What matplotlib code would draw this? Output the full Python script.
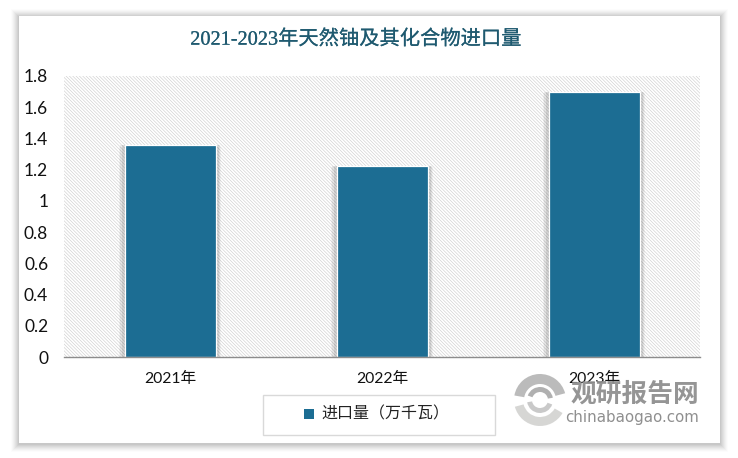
import matplotlib
matplotlib.use("Agg")
import matplotlib.pyplot as plt
from matplotlib.patches import Rectangle, Wedge
import matplotlib.patheffects as pe

categories = ["2021年", "2022年", "2023年"]
import_values = [1.355, 1.225, 1.70]
y_ticks = [0, 0.2, 0.4, 0.6, 0.8, 1, 1.2, 1.4, 1.6, 1.8]
y_labels = ["0", "0.2", "0.4", "0.6", "0.8", "1", "1.2", "1.4", "1.6", "1.8"]
title = "2021-2023年天然铀及其化合物进口量"
legend_label = "进口量（万千瓦）"

W, H = 738, 458
BAR = "#1c6d93"
SANS = ["Lato", "Noto Sans CJK SC"]
plt.rcParams["hatch.linewidth"] = 0.45

fig = plt.figure(figsize=(W / 100, H / 100), dpi=100, facecolor="white")


def px(x, y, w, h):
    return (x / W, 1 - (y + h) / H, w / W, h / H)


bg = fig.add_axes([0, 0, 1, 1], zorder=0)
bg.set_xlim(0, W)
bg.set_ylim(H, 0)
bg.axis("off")
# card shadow, built up in layers, then the card
for grow, a in [(8, 0.012), (7, 0.018), (6, 0.022), (5, 0.028), (4, 0.032), (3, 0.035), (2, 0.04), (1, 0.04)]:
    bg.add_patch(Rectangle((19 - grow, 16 - grow + 1), 701 + 2 * grow, 427 + 2 * grow,
                           fc="black", ec="none", alpha=a))
bg.add_patch(Rectangle((19, 16), 701, 427, fc="white", ec="none"))

ax = fig.add_axes(px(64.2, 76, 636, 281), zorder=1)
ax.set_facecolor("white")
ax.add_patch(Rectangle((0, 0), 1, 1, transform=ax.transAxes, fc="white", ec="#cfcfcf",
                       lw=0, hatch="\\" * 10, zorder=0))
positions = range(len(categories))
bars = ax.bar(positions, import_values, width=0.43, color=BAR, edgecolor="white",
              linewidth=0.9, zorder=3)
shadow_effects = [
    pe.SimplePatchShadow(offset=(o, v), shadow_rgbFace="#000000", alpha=a)
    for o, v, a in [(4, -1, 0.04), (-4, -1, 0.04), (3, 0, 0.06), (-3, 0, 0.06), (2, 0, 0.08), (-2, 0, 0.08)]
]
for b in bars:
    b.set_path_effects(shadow_effects + [pe.Normal()])
ax.set_xlim(-0.5, 2.5)
ax.set_ylim(0, 1.8)
ax.set_xticks(list(positions))
ax.set_xticklabels(categories, family=SANS, fontsize=11.3, color="#111111")
ax.set_yticks(y_ticks)
ax.set_yticklabels(y_labels, family=SANS, fontsize=12.5, color="#111111")
ax.tick_params(axis="both", length=0)
ax.tick_params(axis="x", pad=11)
ax.tick_params(axis="y", pad=11.5)
for s in ["top", "right", "left"]:
    ax.spines[s].set_visible(False)
ax.spines["bottom"].set_color("#8c8c8c")
ax.spines["bottom"].set_linewidth(1.0)
ax.spines["bottom"].set_zorder(5)

fg = fig.add_axes([0, 0, 1, 1], zorder=2)
fg.set_xlim(0, W)
fg.set_ylim(H, 0)
fg.axis("off")
t = fg.text(355.5, 40, title, ha="center", va="center", fontsize=14.6, color="#1f5a70",
            family=["Liberation Serif", "Noto Sans CJK SC"])
t.set_path_effects([pe.withStroke(linewidth=0.12, foreground="#1f5a70")])

# legend box
fg.add_patch(Rectangle((262.5, 394.5), 232, 40, fc="white", ec="#d9d9d9", lw=1))
fg.add_patch(Rectangle((304, 409), 10, 10, fc=BAR, ec="none"))
fg.text(321, 413.5, legend_label, ha="left", va="center", fontsize=11.5, color="#222222",
        family=["Noto Sans CJK SC"])

# watermark
for r, w, t1, t2, c in [(26, 10, 190, 345, "#b4b4b4"), (26, 9, 30, 165, "#d2d2d0"),
                        (13, 5, 200, 350, "#a8a8a8"), (13, 5, 20, 170, "#c4c4c4")]:
    fg.add_patch(Wedge((540, 400), r, t1, t2, width=w, fc=c, ec="none", alpha=0.9))
fg.text(635, 394, "观研报告网", ha="center", va="center", fontsize=18.5, fontweight="bold",
        color="#8f8f8f", family=["Noto Sans CJK SC"], alpha=0.95)
fg.text(632, 417.5, "chinabaogao.com", ha="center", va="center", fontsize=10.8,
        color="#8f8f8f", family=["DejaVu Sans"])

fig.savefig("out.png", dpi=100, facecolor="white")
